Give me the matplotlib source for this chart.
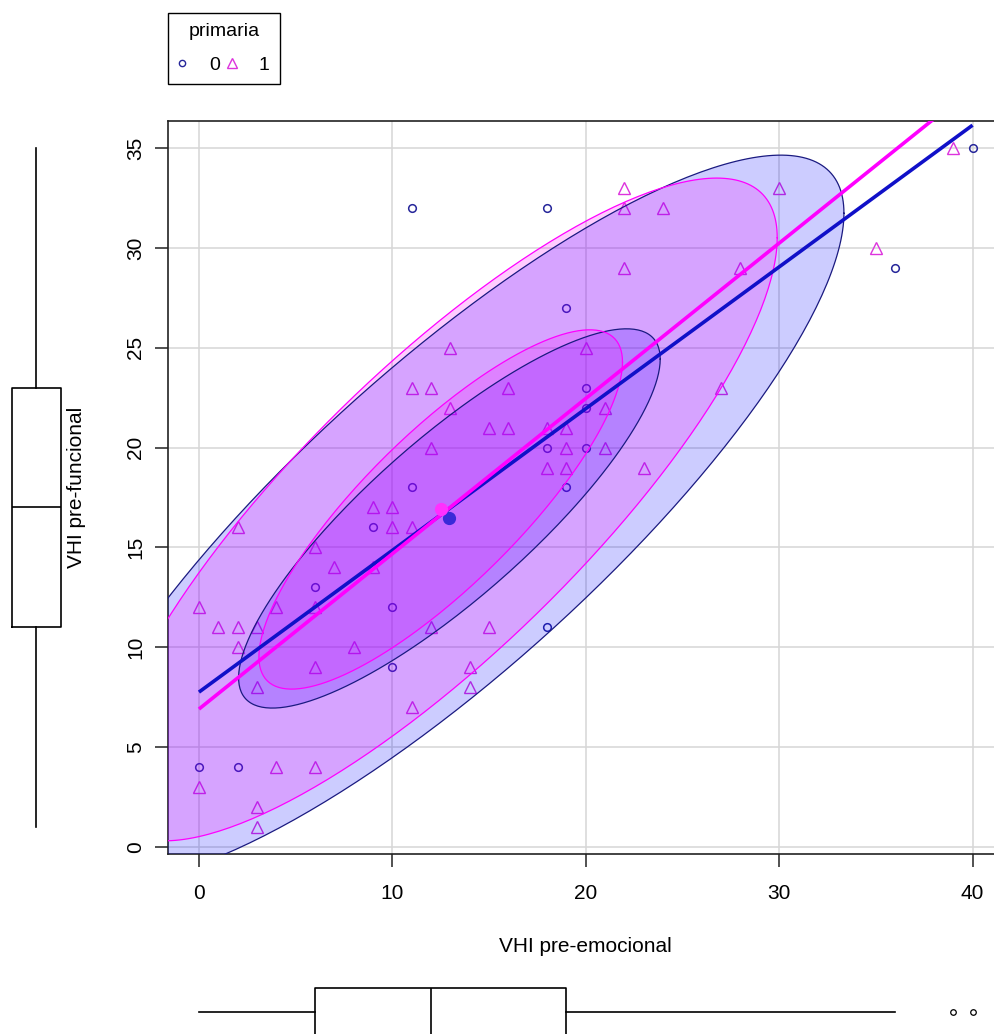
import numpy as np
import matplotlib.pyplot as plt
from matplotlib.lines import Line2D

plt.rcParams['font.family'] = ['Liberation Sans', 'DejaVu Sans']

# VHI scores, primaria = 0
emoc_0 = [11, 18, 19, 40, 36, 20, 20, 20, 18, 19, 11, 9, 6, 10, 10, 18, 0, 2]
func_0 = [32, 32, 27, 35, 29, 23, 22, 20, 20, 18, 18, 16, 13, 12, 9, 11, 4, 4]

# VHI scores, primaria = 1
emoc_1 = [39, 35, 22, 30, 22, 24, 22, 28, 13, 20, 11, 12, 16, 27, 13, 21, 15, 16,
          18, 19, 12, 19, 21, 18, 19, 23, 9, 10, 2, 10, 11, 6, 7, 9, 0, 4, 6, 1,
          2, 3, 12, 15, 2, 8, 6, 14, 3, 14, 11, 4, 6, 0, 3, 3]
func_1 = [35, 30, 33, 33, 32, 32, 29, 29, 25, 25, 23, 23, 23, 23, 22, 22, 21, 21,
          21, 21, 20, 20, 20, 19, 19, 19, 17, 17, 16, 16, 16, 15, 14, 14, 12, 12, 12, 11,
          11, 11, 11, 11, 10, 10, 9, 9, 8, 8, 7, 4, 4, 3, 2, 1]

# fitted lines: intercept, slope, x from, x to
reg_0 = (7.75, 0.71, 0, 40)
reg_1 = (6.9, 0.778, 0, 39)

# data ellipses: centre, correlation, half-extent in x and y per level
centre_0 = (12.95, 16.45)
rho_0 = 0.84
half_0 = {0.5: (10.9, 9.5), 0.95: (20.4, 18.2)}
centre_1 = (12.5, 16.9)
rho_1 = 0.82
half_1 = {0.5: (9.4, 9.0), 0.95: (17.4, 16.6)}

# marginal boxplots (whislo, q1, med, q3, whishi) and outliers
box_x = (0, 6, 12, 19, 36)
fliers_x = [39, 40]
box_y = (1, 11, 17, 23, 35)

col0 = '#0000FF'
col1 = '#FF00FF'
pt0 = '#26269a'
pt1 = '#dd33dd'

W, H = 994, 1034
fig = plt.figure(figsize=(W / 100, H / 100), dpi=100)

xlim = (-1.6, 41.6)
ylim = (-0.36, 36.36)
ax_l, ax_r, ax_t, ax_b = 168, 1003.5, 121, 854
ax = fig.add_axes([ax_l / W, 1 - ax_b / H, (ax_r - ax_l) / W, (ax_b - ax_t) / H])
ax.set_xlim(*xlim)
ax.set_ylim(*ylim)

ax.set_xticks([0, 10, 20, 30, 40])
ax.set_yticks([0, 5, 10, 15, 20, 25, 30, 35])
ax.grid(True, color='#d6d6d6', lw=1.1)
ax.set_axisbelow(True)
for s in ax.spines.values():
    s.set_linewidth(1.2)
    s.set_color('#222222')
ax.tick_params(axis='both', length=9.5, width=1.1, labelsize=15, color='#222222')
ax.tick_params(axis='x', pad=12)
ax.tick_params(axis='y', pad=7, labelrotation=90)
for lab in ax.get_yticklabels():
    lab.set_va('center')

ax.set_xlabel('VHI pre-emocional', fontsize=15, va='center')
ax.xaxis.set_label_coords(0.5, -(947 - ax_b) / (ax_b - ax_t))
ax.set_ylabel('VHI pre-funcional', fontsize=15, va='center')
ax.yaxis.set_label_coords(-(ax_l - 77) / (ax_r - ax_l), 0.5)

# points
ax.plot(emoc_0, func_0, 'o', ms=5.5, mfc='none', mec=pt0, mew=1.1, zorder=2)
ax.plot(emoc_1, func_1, '^', ms=8, mfc='none', mec=pt1, mew=1.0, zorder=2)


def ellipse(centre, rho, hx, hy, n=300):
    t = np.linspace(0, 2 * np.pi, n)
    x = centre[0] + hx * np.cos(t)
    y = centre[1] + hy * (rho * np.cos(t) + np.sqrt(1 - rho ** 2) * np.sin(t))
    return x, y


for centre, rho, half, col, edge in [(centre_0, rho_0, half_0, col0, '#1a1a80'),
                                      (centre_1, rho_1, half_1, col1, col1)]:
    for lev in (0.95, 0.5):
        ex, ey = ellipse(centre, rho, *half[lev])
        ax.fill(ex, ey, color=col, alpha=0.2, lw=0, zorder=3)
        ax.plot(ex, ey, color=edge, lw=0.9, zorder=4)

# regression lines
for (b0, b1, x0, x1), col in [(reg_0, '#1010c8'), (reg_1, col1)]:
    xs = np.array([x0, x1])
    ax.plot(xs, b0 + b1 * xs, color=col, lw=2.6, zorder=5, solid_capstyle='butt')

ax.plot(*centre_0, 'o', ms=8.5, color='#3a2ad8', zorder=6)
ax.plot(*centre_1, 'o', ms=8.5, color='#ff30ff', zorder=6)

# legend above the plot
handles = [Line2D([], [], ls='none', marker='o', ms=4.5, mfc='none', mec=pt0, mew=1.0),
           Line2D([], [], ls='none', marker='^', ms=7, mfc='none', mec=pt1, mew=1.0)]
leg = fig.legend(handles, ['0', '1'], title='primaria', ncol=2, loc='upper left',
                 bbox_to_anchor=(ax_l / W, 1 - 13 / H), fontsize=14, title_fontsize=14,
                 frameon=True, fancybox=False, edgecolor='black', framealpha=1,
                 handlelength=0.4, handletextpad=1.2, columnspacing=0.4,
                 labelspacing=0.85, borderpad=0.52, borderaxespad=0)
leg.get_frame().set_linewidth(1.0)

# marginal boxplot for y
axy = fig.add_axes([0, 1 - ax_b / H, 72 / W, (ax_b - ax_t) / H])
axy.set_ylim(*ylim)
axy.set_xlim(0, 1)
stats_y = [dict(whislo=box_y[0], q1=box_y[1], med=box_y[2], q3=box_y[3], whishi=box_y[4], fliers=[])]
props = dict(color='black', lw=1.2)
axy.bxp(stats_y, positions=[0.5], widths=49 / 72, vert=True, showcaps=False,
        boxprops=props, whiskerprops=props, medianprops=props)
axy.axis('off')

# marginal boxplot for x
axx = fig.add_axes([ax_l / W, 1 - 1060 / H, (ax_r - ax_l) / W, 96 / H])
axx.set_xlim(*xlim)
axx.set_ylim(0, 1)
stats_x = [dict(whislo=box_x[0], q1=box_x[1], med=box_x[2], q3=box_x[3], whishi=box_x[4], fliers=fliers_x)]
axx.bxp(stats_x, positions=[0.5], widths=49 / 96, vert=False, showcaps=False,
        boxprops=props, whiskerprops=props, medianprops=props,
        flierprops=dict(marker='o', ms=4, mfc='none', mec='black', mew=0.9))
axx.axis('off')

fig.savefig('out.png', dpi=100)
